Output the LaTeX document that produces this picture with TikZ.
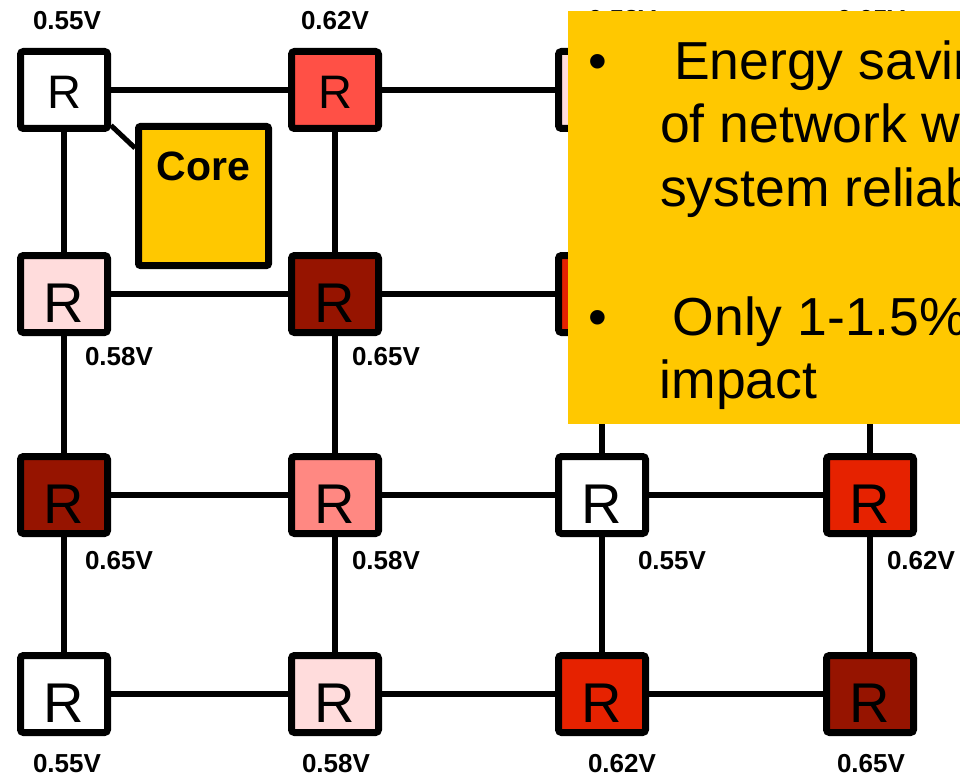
\documentclass[tikz,border=0pt]{standalone}
\usepackage{fontspec}
\setmainfont{Liberation Sans}
\definecolor{coreY}{HTML}{FFC800}
\definecolor{pinkA}{HTML}{FFDCDC}
\definecolor{salmonB}{HTML}{FF8882}
\definecolor{redC}{HTML}{FF5046}
\definecolor{redD}{HTML}{E62200}
\definecolor{darkE}{HTML}{961400}
\begin{document}
\begin{tikzpicture}[x=1pt,y=-1pt,
  rbox/.style={draw=black, line width=7pt, rounded corners=3pt, minimum width=87pt, minimum height=77pt, inner sep=0pt, font=\fontsize{56}{56}\selectfont, text height=57pt, text depth=0pt},
  rtop/.style={rbox, font=\fontsize{47}{47}\selectfont, text height=38pt},
  volt/.style={inner sep=0pt, font=\bfseries\fontsize{26}{26}\selectfont},
  wire/.style={line width=6pt},
  say/.style={inner sep=0pt, anchor=base west, font=\fontsize{53.5}{60}\selectfont}]
\useasboundingbox (0,0) rectangle (960,778);
\clip (0,0) rectangle (960,778);
% routers (those under the note box carry no visible text)
\node[rtop, fill=white]   (r11) at (64,90)  {R};
\node[rtop, fill=redC]    (r12) at (335,90) {R};
\node[rtop, fill=pinkA]   (r13) at (602,90) {};
\node[rtop, fill=darkE]   (r14) at (870,90) {};
\node[rbox, fill=pinkA]   (r21) at (64,294)  {R};
\node[rbox, fill=darkE]   (r22) at (335,294) {R};
\node[rbox, fill=redD]    (r23) at (602,294) {};
\node[rbox, fill=white]   (r24) at (870,294) {};
\node[rbox, fill=darkE]   (r31) at (64,495)  {R};
\node[rbox, fill=salmonB] (r32) at (335,495) {R};
\node[rbox, fill=white]   (r33) at (602,495) {R};
\node[rbox, fill=redD]    (r34) at (870,495) {R};
\node[rbox, fill=white]   (r41) at (64,694)  {R};
\node[rbox, fill=pinkA]   (r42) at (335,694) {R};
\node[rbox, fill=redD]    (r43) at (602,694) {R};
\node[rbox, fill=darkE]   (r44) at (870,694) {R};
% core
\node[draw=black, line width=7pt, rounded corners=2pt, fill=coreY, minimum width=130pt, minimum height=139pt, inner sep=0pt] (core) at (203.5,196) {};
\node[inner sep=0pt, anchor=base, font=\bfseries\fontsize{41}{41}\selectfont] (coretxt) at (203.5,180) {Core};
% links
\draw[wire] (r11) -- (r12);
\draw[wire] (r12) -- (r13);
\draw[wire] (r13) -- (r14);
\draw[wire] (r21) -- (r22);
\draw[wire] (r22) -- (r23);
\draw[wire] (r23) -- (r24);
\draw[wire] (r31) -- (r32);
\draw[wire] (r32) -- (r33);
\draw[wire] (r33) -- (r34);
\draw[wire] (r41) -- (r42);
\draw[wire] (r42) -- (r43);
\draw[wire] (r43) -- (r44);
\draw[wire] (r11) -- (r21);
\draw[wire] (r21) -- (r31);
\draw[wire] (r31) -- (r41);
\draw[wire] (r12) -- (r22);
\draw[wire] (r22) -- (r32);
\draw[wire] (r32) -- (r42);
\draw[wire] (r13) -- (r23);
\draw[wire] (r23) -- (r33);
\draw[wire] (r33) -- (r43);
\draw[wire] (r14) -- (r24);
\draw[wire] (r24) -- (r34);
\draw[wire] (r34) -- (r44);
\draw[wire, line width=5pt] (r11.-37.5) -- (core.145);
% voltage labels
\node[volt] (v11) at (67,21)  {0.55V};
\node[volt] (v12) at (335,21) {0.62V};
\node[volt] (v13) at (622,20) {0.58V};
\node[volt] (v14) at (871,20) {0.65V};
\node[volt] (v21) at (119,357) {0.58V};
\node[volt] (v22) at (386,357) {0.65V};
\node[volt] (v31) at (119,561) {0.65V};
\node[volt] (v32) at (386,561) {0.58V};
\node[volt] (v33) at (672,561) {0.55V};
\node[volt] (v34) at (921,561) {0.62V};
\node[volt] (v41) at (67,764)  {0.55V};
\node[volt] (v42) at (336,764) {0.58V};
\node[volt] (v43) at (622,764) {0.62V};
\node[volt] (v44) at (871,764) {0.65V};
% note box
\node[fill=coreY, inner sep=0pt, anchor=north west, minimum width=400pt, minimum height=413pt] (note) at (568,11) {};
\node[say] (b1) at (588,80) {\textbullet};
\node[say] (t1) at (674,80) {Energy savin};
\node[say] (t2) at (660,143) {of network w};
\node[say] (t3) at (660,206) {system reliab};
\node[say] (b2) at (588,335) {\textbullet};
\node[say] (t4) at (672.5,335) {Only 1-1.5\%};
\node[say] (t5) at (659.5,398) {impact};
\end{tikzpicture}
\end{document}
